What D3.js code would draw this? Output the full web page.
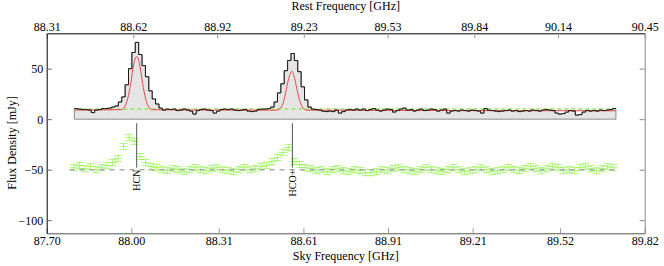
<!DOCTYPE html>
<html>
<head>
<meta charset="utf-8">
<script src="https://cdn.jsdelivr.net/npm/d3@7"></script>
<style>
  body { margin: 0; background: #fff; }
  svg { display: block; font-family: "Liberation Serif", "Times New Roman", serif; }
</style>
</head>
<body>
<div id="chart"></div>
<script>
// tick labels
const skyTicks = [87.70, 88.00, 88.31, 88.61, 88.91, 89.21, 89.52, 89.82];
const restTicks = [88.31, 88.62, 88.92, 89.23, 89.53, 89.84, 90.14, 90.45];
const fluxTicks = [-100, -50, 0, 50];

// observed spectrum (mJy), 160 channels starting at specStart, width specStep (GHz, sky)
const specStart = 87.798;
const specStep = 0.012;
const specFlux = [
  10.5, 10, 9.5, 9.5, 9, 6.5, 9, 9.5, 10.5, 10.5, 11,
  12, 13, 17, 22, 34, 50, 66, 76, 64, 53, 42, 28, 20, 15, 11,
  9, 10, 9.5, 10, 8.5, 9, 10, 9, 8, 5, 8.5, 9.5, 10, 9, 8.5, 6, 8, 9.5, 10,
  9.5, 10, 9, 8.5, 9, 9.5, 8, 7.5, 8, 9.5, 10, 10, 10.5,
  12, 17, 26, 35, 48, 58, 65, 58, 47, 32, 19, 12, 10,
  9.5, 9, 8, 7.5, 8, 7.5, 9, 6, 7.5, 9, 9.5, 9, 10,
  9, 10, 8.5, 9.5, 10.5, 9, 8, 9, 10, 9.5, 7, 8.5, 10, 11, 9, 9.5, 8, 9, 10, 8.5, 9, 10, 9.5, 8, 9, 10,
  6, 8, 8.5, 8, 9, 8.5, 8, 9, 8.5, 8, 6, 10.5,
  9, 8.5, 8, 7.5, 8, 8.5, 9, 8, 8.5, 7.5, 8, 8.5, 8, 9, 8.5, 8, 9, 9.5, 9, 8.5,
  6, 5, 5.5, 7, 8.5, 8, 4, 4.5, 7, 8.5,
  8, 8.5, 8, 9, 8.5, 9, 9.5, 10.5
];

// continuum level (green dashed)
const contLevel = 10;

// gaussian fit (red), sampled points [sky GHz, mJy]
const fitFreq = [87.798,
  87.966, 87.976, 87.987, 87.998, 88.008, 88.019, 88.030, 88.040, 88.051, 88.062, 88.072,
  88.515, 88.526, 88.537, 88.547, 88.558, 88.569, 88.579, 88.590, 88.601, 88.611, 88.622,
  89.718];
const fitFlux = [9,
  9.4, 12, 20, 35.5, 53.6, 62, 53.6, 35.5, 20, 12, 9.3,
  8.9, 10.3, 15, 25.9, 40.3, 47.4, 40.3, 25.9, 15, 10.3, 8.9,
  8.3];

// second spectrum with error bars (green), offset to -50
const errStart = 87.797;
const errStep = 0.0195;
const errHalfWidth = 0.016;
const errSize = 3;
const errFlux = [
  -48, -46, -49, -47, -50, -48,
  -46, -43, -39, -27, -18, -22, -37, -43, -47,
  -48, -50, -51, -49, -50, -52, -50, -48, -50, -51, -49, -48, -50, -51, -52, -50, -48, -50, -49, -47,
  -46, -42, -38, -33, -28, -42, -45, -48,
  -49, -51, -50, -52, -50, -49, -51, -52, -50, -51, -53, -53, -52, -50, -51, -49, -48, -50,
  -51, -52, -50, -48, -50, -51, -52, -50, -48, -50, -52, -51, -50, -48, -50, -52, -51, -50, -48, -50,
  -51, -49, -47, -49, -51, -49, -47, -48, -51, -50, -51, -48, -47, -49, -51, -49, -47, -48
];
const offsetLevel = -50;

// line identifications
const lineNames = ['HCN', 'HCO+'];
const lineFreqs = [88.019, 88.571];
const lineTop = -4;
const lineBottom = -48;

const W = 664, H = 266;
const margin = { top: 33.3, right: 19.3, bottom: 32.7, left: 46.7 };
const width = W - margin.left - margin.right;
const height = H - margin.top - margin.bottom;

const svg = d3.select('#chart').append('svg')
  .attr('width', W)
  .attr('height', H);

const g = svg.append('g')
  .attr('transform', `translate(${margin.left},${margin.top})`);

const x = d3.scaleLinear().domain([87.70, 89.82]).range([0, width]);
const xRest = d3.scaleLinear().domain([88.31, 90.45]).range([0, width]);
const y = d3.scaleLinear().domain([-113, 85]).range([height, 0]);

// spectrum points (step)
const spec = specFlux.map((v, i) => ({ f: specStart + i * specStep, v }));
spec.push({ f: specStart + specFlux.length * specStep, v: specFlux[specFlux.length - 1] });

const specEnd = spec[spec.length - 1].f;

// gray filled box under spectrum
g.append('path')
  .datum(spec)
  .attr('d', d3.area().curve(d3.curveStepAfter)
    .x(d => x(d.f)).y0(y(0)).y1(d => y(d.v)))
  .attr('fill', '#e5e5e5')
  .attr('stroke', '#8a8a8a')
  .attr('stroke-width', 1);

// continuum level
g.append('line')
  .attr('x1', x(specStart)).attr('x2', x(specEnd))
  .attr('y1', y(contLevel)).attr('y2', y(contLevel))
  .attr('stroke', '#9de85e')
  .attr('stroke-width', 1.5)
  .attr('stroke-dasharray', '4,3');

// fit
g.append('path')
  .datum(fitFreq.map((f, i) => ({ f, v: fitFlux[i] })))
  .attr('d', d3.line().curve(d3.curveMonotoneX).x(d => x(d.f)).y(d => y(d.v)))
  .attr('fill', 'none')
  .attr('stroke', '#e8474a')
  .attr('stroke-width', 1);

// spectrum outline
g.append('path')
  .datum(spec)
  .attr('d', d3.line().curve(d3.curveStepAfter).x(d => x(d.f)).y(d => y(d.v)))
  .attr('fill', 'none')
  .attr('stroke', '#1a1a1a')
  .attr('stroke-width', 1);

// error bar spectrum
const errData = errFlux.map((v, i) => ({ f: errStart + i * errStep, v }));

const bars = g.append('g')
  .attr('stroke', '#66f000')
  .attr('stroke-opacity', 0.5)
  .attr('stroke-width', 1)
  .selectAll('g')
  .data(errData)
  .join('g');

bars.append('line')
  .attr('x1', d => x(d.f - errHalfWidth)).attr('x2', d => x(d.f + errHalfWidth))
  .attr('y1', d => y(d.v)).attr('y2', d => y(d.v));
bars.append('line')
  .attr('x1', d => x(d.f)).attr('x2', d => x(d.f))
  .attr('y1', d => y(d.v - errSize)).attr('y2', d => y(d.v + errSize));
bars.append('line')
  .attr('x1', d => x(d.f) - 4).attr('x2', d => x(d.f) + 4)
  .attr('y1', d => y(d.v - errSize)).attr('y2', d => y(d.v - errSize));
bars.append('line')
  .attr('x1', d => x(d.f) - 4).attr('x2', d => x(d.f) + 4)
  .attr('y1', d => y(d.v + errSize)).attr('y2', d => y(d.v + errSize));

// offset level
g.append('line')
  .attr('x1', x(errStart - errHalfWidth)).attr('x2', x(errData[errData.length - 1].f + errHalfWidth))
  .attr('y1', y(offsetLevel)).attr('y2', y(offsetLevel))
  .attr('stroke', '#aaaaaa')
  .attr('stroke-width', 1.5)
  .attr('stroke-dasharray', '5,5');

// line markers
lineNames.forEach((name, i) => {
  g.append('line')
    .attr('x1', x(lineFreqs[i])).attr('x2', x(lineFreqs[i]))
    .attr('y1', y(lineTop)).attr('y2', y(lineBottom))
    .attr('stroke', '#555')
    .attr('stroke-width', 1);
  g.append('text')
    .attr('transform', `translate(${x(lineFreqs[i]) + 3.5},${y(lineBottom) + 2}) rotate(-90)`)
    .attr('text-anchor', 'end')
    .style('font-size', '10px')
    .text(name);
});

// axes
function styleAxis(sel, lineColor, tickColor) {
  sel.select('.domain').attr('stroke', lineColor);
  sel.selectAll('.tick line').attr('stroke', tickColor);
  sel.selectAll('.tick text').attr('fill', '#000').style('font-size', '12px')
    .style('font-family', '"Liberation Serif", "Times New Roman", serif');
}

g.append('g')
  .attr('transform', `translate(0,${height})`)
  .call(d3.axisBottom(x).tickValues(skyTicks).tickFormat(d3.format('.2f'))
    .tickSizeInner(-5).tickSizeOuter(0).tickPadding(3.5))
  .call(s => styleAxis(s, '#555', '#999'));

g.append('g')
  .call(d3.axisTop(xRest).tickValues(restTicks).tickFormat(d3.format('.2f'))
    .tickSizeInner(-5).tickSizeOuter(0).tickPadding(2))
  .call(s => styleAxis(s, '#000', '#999'));

g.append('g')
  .call(d3.axisLeft(y).tickValues(fluxTicks).tickFormat(d => d3.format('d')(d).replace('-', '\u2212'))
    .tickSizeInner(-5).tickSizeOuter(0).tickPadding(3.5))
  .call(s => styleAxis(s, '#000', '#666'));

g.append('g')
  .attr('transform', `translate(${width},0)`)
  .call(d3.axisRight(y).tickValues(fluxTicks).tickFormat('')
    .tickSizeInner(-5).tickSizeOuter(0))
  .call(s => styleAxis(s, '#888', '#888'));

// axis titles
svg.append('text')
  .attr('x', margin.left + width / 2).attr('y', 10)
  .attr('text-anchor', 'middle')
  .style('font-size', '12px')
  .text('Rest Frequency [GHz]');

svg.append('text')
  .attr('x', margin.left + width / 2).attr('y', 259.5)
  .attr('text-anchor', 'middle')
  .style('font-size', '12px')
  .text('Sky Frequency [GHz]');

svg.append('text')
  .attr('transform', 'translate(15.5,143) rotate(-90)')
  .attr('text-anchor', 'middle')
  .style('font-size', '12px')
  .text('Flux Density [mJy]');
</script>
</body>
</html>
